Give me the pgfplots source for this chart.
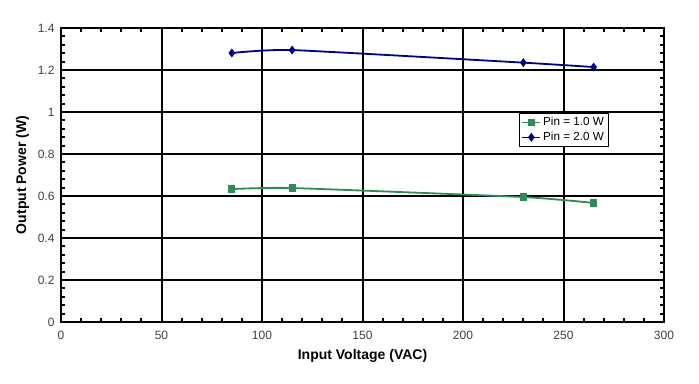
\documentclass[border=0pt]{standalone}
\usepackage{pgfplots}
\pgfplotsset{compat=1.18}
\usepackage{fontspec}
\setmainfont{Liberation Sans}
\definecolor{sgreen}{RGB}{46,139,87}
\definecolor{dnavy}{RGB}{0,0,128}
\begin{document}
\begin{tikzpicture}[x=1pt,y=1pt]
\useasboundingbox (0,0) rectangle (699,383);
\begin{axis}[
  at={(61pt,61pt)}, anchor=south west,
  scale only axis, width=603pt, height=294pt,
  xmin=0, xmax=300, ymin=0, ymax=1.4,
  xtick={0,50,...,300}, ytick={0,0.2,...,1.4},
  yticklabels={0,0.2,0.4,0.6,0.8,1,1.2,1.4},
  minor x tick num=4, minor y tick num=4,
  tick align=inside,
  major tick length=0pt, minor tick length=4pt,
  every tick/.style={black, line width=2pt},
  grid=major,
  major grid style={black, line width=2pt},
  axis line style={black, line width=2.5pt},
  /pgf/number format/assume math mode=true,
  ticklabel style={font=\fontsize{12}{14}\selectfont, text=black!75},
  xticklabel style={yshift=-6pt},
  yticklabel style={xshift=-3pt},
  xlabel={\textbf{Input Voltage (VAC)}},
  ylabel={\textbf{Output Power (W)}},
  label style={font=\fontsize{14}{16}\selectfont},
  xlabel style={yshift=-2pt},
  ylabel style={yshift=2pt},
  legend style={at={(axis cs:228,0.995)}, anchor=north west, draw=black, line width=0.6pt,
    font=\fontsize{11.7}{13}\selectfont, inner sep=2pt, row sep=1pt, cells={anchor=west}},
  legend cell align=left,
  legend image code/.code={\draw[#1, line width=1.6pt] (0pt,0pt) -- (18pt,0pt);
     \draw[#1, mark repeat=1] plot coordinates {(9pt,0pt)};},
]
\addplot[color=sgreen, line width=1.8pt, smooth, tension=0.3, mark=square*, mark size=2.7pt,
  mark options={solid}] coordinates {(85,0.633) (115,0.638) (230,0.595) (265,0.567)};
\addlegendentry{Pin = 1.0 W}
\addplot[color=dnavy, line width=1.8pt, smooth, tension=0.3, mark=diamond*, mark size=3pt,
  mark options={solid}] coordinates {(85,1.281) (115,1.295) (230,1.235) (265,1.214)};
\addlegendentry{Pin = 2.0 W}
\end{axis}
\end{tikzpicture}
\end{document}
